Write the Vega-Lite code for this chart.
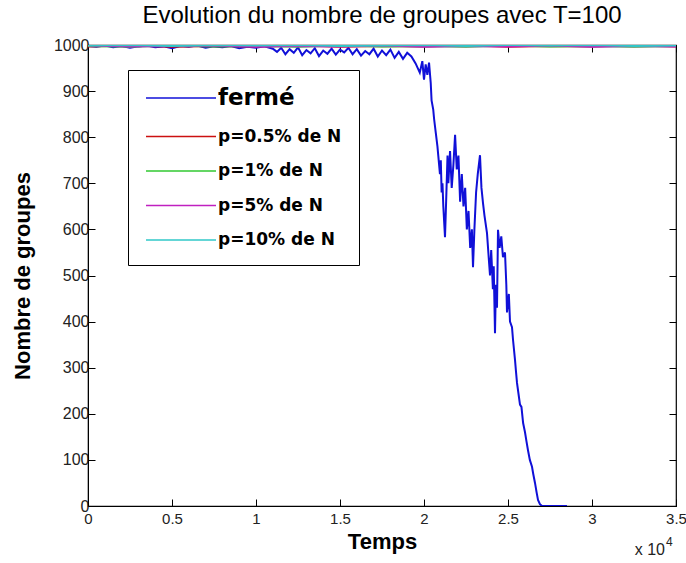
{
  "$schema": "https://vega.github.io/schema/vega-lite/v6.json",
  "width": 588,
  "height": 461,
  "autosize": {"type": "none"},
  "padding": {"left": 88, "top": 45, "right": 10, "bottom": 57},
  "background": "white",
  "config": {
    "view": {"stroke": "black", "strokeWidth": 1.2},
    "font": "Liberation Sans"
  },
  "title": {
    "text": "Evolution du nombre de groupes avec T=100",
    "font": "Liberation Sans",
    "fontSize": 24,
    "fontWeight": "normal",
    "color": "black",
    "anchor": "middle",
    "offset": 9
  },
  "datasets": {
    "curves": [
      {"t": 0, "n": 998, "s": "fermé"}, {"t": 500, "n": 996, "s": "fermé"}, {"t": 1000, "n": 999, "s": "fermé"},
      {"t": 1500, "n": 995, "s": "fermé"}, {"t": 2000, "n": 998, "s": "fermé"}, {"t": 2500, "n": 994, "s": "fermé"},
      {"t": 3000, "n": 997, "s": "fermé"}, {"t": 3500, "n": 999, "s": "fermé"}, {"t": 4000, "n": 995, "s": "fermé"},
      {"t": 4500, "n": 997, "s": "fermé"}, {"t": 5000, "n": 993, "s": "fermé"}, {"t": 5500, "n": 998, "s": "fermé"},
      {"t": 6000, "n": 996, "s": "fermé"}, {"t": 6500, "n": 999, "s": "fermé"}, {"t": 7000, "n": 994, "s": "fermé"},
      {"t": 7500, "n": 997, "s": "fermé"}, {"t": 8000, "n": 995, "s": "fermé"}, {"t": 8500, "n": 998, "s": "fermé"},
      {"t": 9000, "n": 993, "s": "fermé"}, {"t": 9500, "n": 996, "s": "fermé"}, {"t": 10000, "n": 994, "s": "fermé"},
      {"t": 10500, "n": 997, "s": "fermé"}, {"t": 11000, "n": 992, "s": "fermé"}, {"t": 11250, "n": 985, "s": "fermé"},
      {"t": 11500, "n": 994, "s": "fermé"}, {"t": 11750, "n": 980, "s": "fermé"}, {"t": 12000, "n": 991, "s": "fermé"},
      {"t": 12250, "n": 983, "s": "fermé"}, {"t": 12500, "n": 995, "s": "fermé"}, {"t": 12750, "n": 978, "s": "fermé"},
      {"t": 13000, "n": 989, "s": "fermé"}, {"t": 13250, "n": 982, "s": "fermé"}, {"t": 13500, "n": 993, "s": "fermé"},
      {"t": 13750, "n": 976, "s": "fermé"}, {"t": 14000, "n": 988, "s": "fermé"}, {"t": 14250, "n": 981, "s": "fermé"},
      {"t": 14500, "n": 992, "s": "fermé"}, {"t": 14750, "n": 979, "s": "fermé"}, {"t": 15000, "n": 990, "s": "fermé"},
      {"t": 15250, "n": 984, "s": "fermé"}, {"t": 15500, "n": 994, "s": "fermé"}, {"t": 15750, "n": 980, "s": "fermé"},
      {"t": 16000, "n": 991, "s": "fermé"}, {"t": 16250, "n": 977, "s": "fermé"}, {"t": 16500, "n": 987, "s": "fermé"},
      {"t": 16750, "n": 980, "s": "fermé"}, {"t": 17000, "n": 992, "s": "fermé"}, {"t": 17250, "n": 975, "s": "fermé"},
      {"t": 17500, "n": 988, "s": "fermé"}, {"t": 17750, "n": 978, "s": "fermé"}, {"t": 18000, "n": 990, "s": "fermé"},
      {"t": 18250, "n": 972, "s": "fermé"}, {"t": 18500, "n": 985, "s": "fermé"}, {"t": 18750, "n": 970, "s": "fermé"},
      {"t": 19000, "n": 983, "s": "fermé"}, {"t": 19250, "n": 975, "s": "fermé"}, {"t": 19500, "n": 960, "s": "fermé"},
      {"t": 19750, "n": 940, "s": "fermé"}, {"t": 19900, "n": 965, "s": "fermé"}, {"t": 20000, "n": 925, "s": "fermé"},
      {"t": 20100, "n": 958, "s": "fermé"}, {"t": 20200, "n": 935, "s": "fermé"}, {"t": 20300, "n": 962, "s": "fermé"},
      {"t": 20400, "n": 918, "s": "fermé"}, {"t": 20450, "n": 880, "s": "fermé"}, {"t": 20550, "n": 860, "s": "fermé"},
      {"t": 20600, "n": 840, "s": "fermé"}, {"t": 20700, "n": 810, "s": "fermé"}, {"t": 20800, "n": 780, "s": "fermé"},
      {"t": 20850, "n": 760, "s": "fermé"}, {"t": 20950, "n": 720, "s": "fermé"}, {"t": 21000, "n": 750, "s": "fermé"},
      {"t": 21050, "n": 680, "s": "fermé"}, {"t": 21100, "n": 700, "s": "fermé"}, {"t": 21150, "n": 650, "s": "fermé"},
      {"t": 21250, "n": 583, "s": "fermé"}, {"t": 21300, "n": 640, "s": "fermé"}, {"t": 21400, "n": 760, "s": "fermé"},
      {"t": 21450, "n": 700, "s": "fermé"}, {"t": 21550, "n": 770, "s": "fermé"}, {"t": 21650, "n": 690, "s": "fermé"},
      {"t": 21750, "n": 740, "s": "fermé"}, {"t": 21850, "n": 805, "s": "fermé"}, {"t": 21950, "n": 730, "s": "fermé"},
      {"t": 22050, "n": 760, "s": "fermé"}, {"t": 22150, "n": 660, "s": "fermé"}, {"t": 22250, "n": 720, "s": "fermé"},
      {"t": 22350, "n": 650, "s": "fermé"}, {"t": 22450, "n": 690, "s": "fermé"}, {"t": 22550, "n": 600, "s": "fermé"},
      {"t": 22650, "n": 640, "s": "fermé"}, {"t": 22750, "n": 560, "s": "fermé"}, {"t": 22850, "n": 600, "s": "fermé"},
      {"t": 22917, "n": 518, "s": "fermé"}, {"t": 23000, "n": 600, "s": "fermé"}, {"t": 23100, "n": 680, "s": "fermé"},
      {"t": 23200, "n": 720, "s": "fermé"}, {"t": 23333, "n": 761, "s": "fermé"}, {"t": 23420, "n": 690, "s": "fermé"},
      {"t": 23512, "n": 657, "s": "fermé"}, {"t": 23600, "n": 630, "s": "fermé"}, {"t": 23750, "n": 592, "s": "fermé"},
      {"t": 23850, "n": 540, "s": "fermé"}, {"t": 23929, "n": 500, "s": "fermé"}, {"t": 24000, "n": 555, "s": "fermé"},
      {"t": 24100, "n": 470, "s": "fermé"}, {"t": 24150, "n": 520, "s": "fermé"}, {"t": 24226, "n": 375, "s": "fermé"},
      {"t": 24280, "n": 480, "s": "fermé"}, {"t": 24345, "n": 430, "s": "fermé"}, {"t": 24405, "n": 599, "s": "fermé"},
      {"t": 24500, "n": 560, "s": "fermé"}, {"t": 24600, "n": 585, "s": "fermé"}, {"t": 24700, "n": 540, "s": "fermé"},
      {"t": 24821, "n": 550, "s": "fermé"}, {"t": 24900, "n": 480, "s": "fermé"}, {"t": 24940, "n": 420, "s": "fermé"},
      {"t": 25050, "n": 460, "s": "fermé"}, {"t": 25119, "n": 400, "s": "fermé"}, {"t": 25238, "n": 388, "s": "fermé"},
      {"t": 25300, "n": 360, "s": "fermé"}, {"t": 25417, "n": 317, "s": "fermé"}, {"t": 25480, "n": 290, "s": "fermé"},
      {"t": 25536, "n": 267, "s": "fermé"}, {"t": 25600, "n": 250, "s": "fermé"}, {"t": 25714, "n": 220, "s": "fermé"},
      {"t": 25800, "n": 215, "s": "fermé"}, {"t": 25900, "n": 180, "s": "fermé"}, {"t": 26012, "n": 160, "s": "fermé"},
      {"t": 26100, "n": 140, "s": "fermé"}, {"t": 26190, "n": 121, "s": "fermé"}, {"t": 26300, "n": 100, "s": "fermé"},
      {"t": 26429, "n": 85, "s": "fermé"}, {"t": 26500, "n": 70, "s": "fermé"}, {"t": 26607, "n": 50, "s": "fermé"},
      {"t": 26700, "n": 30, "s": "fermé"}, {"t": 26786, "n": 13, "s": "fermé"}, {"t": 26900, "n": 4, "s": "fermé"},
      {"t": 27024, "n": 0, "s": "fermé"}, {"t": 28512, "n": 0, "s": "fermé"},

      {"t": 0, "n": 997, "s": "p=0.5% de N"}, {"t": 2500, "n": 999, "s": "p=0.5% de N"}, {"t": 5000, "n": 996, "s": "p=0.5% de N"},
      {"t": 7500, "n": 998, "s": "p=0.5% de N"}, {"t": 10000, "n": 997, "s": "p=0.5% de N"}, {"t": 12500, "n": 999, "s": "p=0.5% de N"},
      {"t": 15000, "n": 996, "s": "p=0.5% de N"}, {"t": 17500, "n": 998, "s": "p=0.5% de N"}, {"t": 20000, "n": 997, "s": "p=0.5% de N"},
      {"t": 22500, "n": 999, "s": "p=0.5% de N"}, {"t": 25000, "n": 996, "s": "p=0.5% de N"}, {"t": 27500, "n": 998, "s": "p=0.5% de N"},
      {"t": 30000, "n": 997, "s": "p=0.5% de N"}, {"t": 32500, "n": 999, "s": "p=0.5% de N"}, {"t": 35000, "n": 997, "s": "p=0.5% de N"},

      {"t": 0, "n": 998, "s": "p=1% de N"}, {"t": 2500, "n": 996, "s": "p=1% de N"}, {"t": 5000, "n": 999, "s": "p=1% de N"},
      {"t": 7500, "n": 997, "s": "p=1% de N"}, {"t": 10000, "n": 998, "s": "p=1% de N"}, {"t": 12500, "n": 996, "s": "p=1% de N"},
      {"t": 15000, "n": 999, "s": "p=1% de N"}, {"t": 17500, "n": 997, "s": "p=1% de N"}, {"t": 20000, "n": 998, "s": "p=1% de N"},
      {"t": 22500, "n": 996, "s": "p=1% de N"}, {"t": 25000, "n": 999, "s": "p=1% de N"}, {"t": 27500, "n": 997, "s": "p=1% de N"},
      {"t": 30000, "n": 998, "s": "p=1% de N"}, {"t": 32500, "n": 996, "s": "p=1% de N"}, {"t": 35000, "n": 998, "s": "p=1% de N"},

      {"t": 0, "n": 999, "s": "p=5% de N"}, {"t": 2500, "n": 997, "s": "p=5% de N"}, {"t": 5000, "n": 998, "s": "p=5% de N"},
      {"t": 7500, "n": 999, "s": "p=5% de N"}, {"t": 10000, "n": 996, "s": "p=5% de N"}, {"t": 12500, "n": 998, "s": "p=5% de N"},
      {"t": 15000, "n": 997, "s": "p=5% de N"}, {"t": 17500, "n": 999, "s": "p=5% de N"}, {"t": 20000, "n": 996, "s": "p=5% de N"},
      {"t": 22500, "n": 998, "s": "p=5% de N"}, {"t": 25000, "n": 997, "s": "p=5% de N"}, {"t": 27500, "n": 999, "s": "p=5% de N"},
      {"t": 30000, "n": 996, "s": "p=5% de N"}, {"t": 32500, "n": 998, "s": "p=5% de N"}, {"t": 35000, "n": 997, "s": "p=5% de N"},

      {"t": 0, "n": 999, "s": "p=10% de N"}, {"t": 2500, "n": 1000, "s": "p=10% de N"}, {"t": 5000, "n": 998, "s": "p=10% de N"},
      {"t": 7500, "n": 1000, "s": "p=10% de N"}, {"t": 10000, "n": 999, "s": "p=10% de N"}, {"t": 12500, "n": 1000, "s": "p=10% de N"},
      {"t": 15000, "n": 998, "s": "p=10% de N"}, {"t": 17500, "n": 999, "s": "p=10% de N"}, {"t": 20000, "n": 1000, "s": "p=10% de N"},
      {"t": 22500, "n": 998, "s": "p=10% de N"}, {"t": 25000, "n": 1000, "s": "p=10% de N"}, {"t": 27500, "n": 999, "s": "p=10% de N"},
      {"t": 30000, "n": 1000, "s": "p=10% de N"}, {"t": 32500, "n": 998, "s": "p=10% de N"}, {"t": 35000, "n": 999, "s": "p=10% de N"}
    ],
    "note": [{"t": 35000, "n": 0, "label": "x 10"}],
    "exponent": [{"t": 35000, "n": 0, "label": "4"}]
  },
  "layer": [
    {
      "data": {"name": "curves"},
      "mark": {"type": "line", "strokeWidth": 2, "clip": true},
      "encoding": {
        "x": {
          "field": "t", "type": "quantitative",
          "scale": {"domain": [0, 35000], "nice": false, "zero": false},
          "axis": {
            "orient": "bottom",
            "values": [0, 5000, 10000, 15000, 20000, 25000, 30000, 35000],
            "labelExpr": "datum.value / 10000 + ''",
            "title": "Temps",
            "titleFont": "Liberation Sans", "titleFontSize": 22, "titleFontWeight": "bold", "titleColor": "black",
            "titlePadding": 5,
            "labelFont": "Liberation Sans", "labelFontSize": 15, "labelColor": "#222222",
            "labelPadding": 12, "labelFlush": false,
            "tickSize": -7, "tickColor": "black", "domainColor": "black", "grid": false
          }
        },
        "y": {
          "field": "n", "type": "quantitative",
          "scale": {"domain": [0, 1000], "nice": false},
          "axis": {
            "orient": "left",
            "values": [0, 100, 200, 300, 400, 500, 600, 700, 800, 900, 1000],
            "format": "d",
            "title": "Nombre de groupes",
            "titleFont": "Liberation Sans", "titleFontSize": 22, "titleFontWeight": "bold", "titleColor": "black",
            "titlePadding": 19,
            "labelFont": "Liberation Sans", "labelFontSize": 16, "labelColor": "#222222",
            "labelPadding": 6, "labelFlush": false,
            "tickSize": -7, "tickColor": "black", "domainColor": "black", "grid": false
          }
        },
        "color": {
          "field": "s", "type": "nominal",
          "scale": {
            "domain": ["fermé", "p=0.5% de N", "p=1% de N", "p=5% de N", "p=10% de N"],
            "range": ["#1010d8", "#cc1010", "#30c830", "#c020c0", "#30c8c8"]
          },
          "legend": {
            "orient": "none", "legendX": 40, "legendY": 25,
            "title": null,
            "symbolType": "M-1,0H6", "symbolSize": 400, "symbolStrokeWidth": 1.5,
            "labelFont": "DejaVu Sans", "labelFontWeight": "bold", "labelFontSize": 17, "labelColor": "black",
            "labelOffset": 51, "labelLimit": 300,
            "padding": 17, "rowPadding": 15.5,
            "strokeColor": "black", "fillColor": "white",
            "encode": {"labels": {"update": {"fontSize": {"signal": "datum.label == 'fermé' ? 23 : 17"}}}}
          }
        },
        "order": {"field": "t", "type": "quantitative"}
      }
    },
    {
      "data": {"name": "note"},
      "mark": {"type": "text", "align": "right", "baseline": "alphabetic", "dx": -11, "dy": 49, "fontSize": 16, "font": "Liberation Sans", "color": "#222222"},
      "encoding": {
        "x": {"field": "t", "type": "quantitative", "axis": {"orient": "top", "labels": false, "title": null, "values": [0, 5000, 10000, 15000, 20000, 25000, 30000, 35000], "tickSize": -7, "tickColor": "black", "domain": false, "grid": false}},
        "y": {"field": "n", "type": "quantitative", "axis": {"orient": "right", "labels": false, "title": null, "values": [0, 100, 200, 300, 400, 500, 600, 700, 800, 900, 1000], "tickSize": -7, "tickColor": "black", "domain": false, "grid": false}},
        "text": {"field": "label"}
      }
    },
    {
      "data": {"name": "exponent"},
      "mark": {"type": "text", "align": "left", "baseline": "alphabetic", "dx": -10, "dy": 40, "fontSize": 12, "font": "Liberation Sans", "color": "#222222"},
      "encoding": {
        "x": {"field": "t", "type": "quantitative", "axis": null},
        "y": {"field": "n", "type": "quantitative", "axis": null},
        "text": {"field": "label"}
      }
    }
  ]
}
